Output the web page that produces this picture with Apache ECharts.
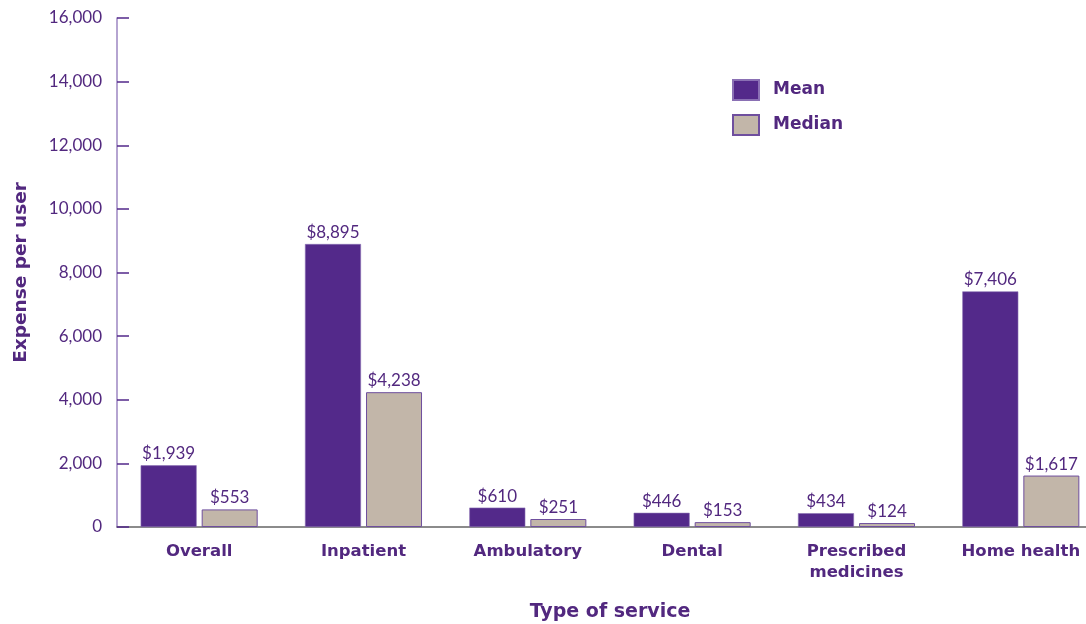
<!DOCTYPE html>
<html><head><meta charset="utf-8">
<script src="https://cdn.jsdelivr.net/npm/echarts@6/dist/echarts.min.js"></script>
<style>html,body{margin:0;padding:0;background:#fff}#c{width:1086px;height:624px}</style>
</head><body><div id="c"></div>
<script>
const categories = ['Overall','Inpatient','Ambulatory','Dental','Prescribed\nmedicines','Home health'];
const meanValues = [1939, 8895, 610, 446, 434, 7406];
const medianValues = [553, 4238, 251, 153, 124, 1617];
const yTicks = [0, 2000, 4000, 6000, 8000, 10000, 12000, 14000, 16000];

const purple = '#53298a';
const textColor = '#52287f';
const font = 'Lato, "Open Sans", sans-serif';
const boldFont = '"DejaVu Sans", sans-serif';
const fmt = v => '$' + v.toLocaleString('en-US');

const chart = echarts.init(document.getElementById('c'));
chart.setOption({
  animation: false,
  textStyle: { fontFamily: font },
  grid: { left: 117, top: 18, width: 986, bottom: 97, containLabel: false, outerBoundsMode: 'none' },
  legend: {
    left: 727, top: 74, orient: 'vertical', itemGap: 13,
    itemWidth: 26, itemHeight: 20, icon: 'rect',
    textStyle: { color: textColor, fontSize: 17, fontWeight: 'bold', fontFamily: boldFont, padding: [0, 0, 0, 9] },
    data: ['Mean', 'Median']
  },
  xAxis: {
    type: 'category', data: categories,
    name: 'Type of service', nameLocation: 'middle', nameGap: 76,
    nameTextStyle: { color: textColor, fontSize: 19, fontWeight: 'bold', fontFamily: boldFont },
    axisLine: { lineStyle: { color: '#666', width: 1.5 } },
    axisTick: { show: false },
    axisLabel: { color: textColor, fontSize: 16.5, fontWeight: 'bold', fontFamily: boldFont, margin: 14, lineHeight: 21, interval: 0 }
  },
  yAxis: {
    type: 'value', min: 0, max: 16000, interval: 2000,
    name: 'Expense per user', nameLocation: 'middle', nameGap: 86, nameRotate: 90,
    nameTextStyle: { color: textColor, fontSize: 18.5, fontWeight: 'bold', fontFamily: boldFont },
    axisLine: { show: true, lineStyle: { color: '#9d86c2', width: 1.5 } },
    axisTick: { show: true, inside: true, length: 12, lineStyle: { color: purple, width: 1.5 } },
    splitLine: { show: false },
    axisLabel: { color: textColor, fontSize: 17, fontFamily: font, margin: 15,
      formatter: v => yTicks.includes(v) ? v.toLocaleString('en-US') : '' }
  },
  series: [
    { name: 'Mean', type: 'bar', data: meanValues, barWidth: 56, barGap: '9%',
      itemStyle: { color: purple, borderColor: '#8a70b4', borderWidth: 0.6 },
      label: { show: true, position: 'top', distance: 3, color: textColor, fontSize: 17, fontFamily: font, formatter: p => fmt(p.value) } },
    { name: 'Median', type: 'bar', data: medianValues, barWidth: 56,
      itemStyle: { color: '#c2b6a9', borderColor: '#6f4f9e', borderWidth: 1 },
      label: { show: true, position: 'top', distance: 3, color: textColor, fontSize: 17, fontFamily: font, formatter: p => fmt(p.value) } }
  ]
});
</script></body></html>
